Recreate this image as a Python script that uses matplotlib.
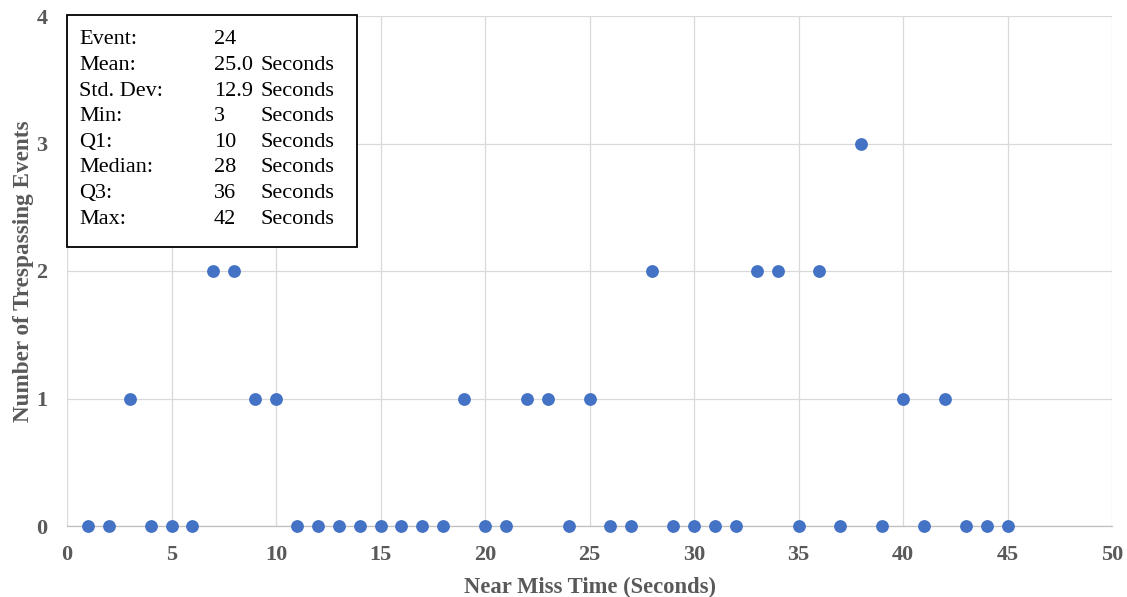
import matplotlib
matplotlib.use("Agg")
import matplotlib.pyplot as plt

x_times = list(range(1, 46))
y_counts = [0, 0, 1, 0, 0, 0, 2, 2, 1, 1,
            0, 0, 0, 0, 0, 0, 0, 0, 1, 0,
            0, 1, 1, 0, 1, 0, 0, 2, 0, 0,
            0, 0, 2, 2, 0, 2, 0, 3, 0, 1,
            0, 1, 0, 0, 0]
x_ticks = [0, 5, 10, 15, 20, 25, 30, 35, 40, 45, 50]
y_ticks = [0, 1, 2, 3, 4]
stat_labels = ["Event:", "Mean:", "Std. Dev:", "Min:", "Q1:", "Median:", "Q3:", "Max:"]
stat_values = ["24", "25.0", "12.9", "3", "10", "28", "36", "42"]
stat_units = ["", "Seconds", "Seconds", "Seconds", "Seconds", "Seconds", "Seconds", "Seconds"]

plt.rcParams['font.family'] = ['Liberation Serif', 'DejaVu Serif']
W, H = 1127, 597
fig = plt.figure(figsize=(W/100, H/100), dpi=100)
L, R, T, B = 67, 1112, 16, 526
ax = fig.add_axes([L/W, 1 - B/H, (R-L)/W, (B-T)/H])

ax.scatter(x_times, y_counts, s=85, color='#4472C4', zorder=3, clip_on=False, linewidths=0)
ax.set_xlim(0, 50)
ax.set_ylim(0, 4)
ax.set_xticks(x_ticks)
ax.set_yticks(y_ticks)
ax.grid(True, color='#D9D9D9', linewidth=0.9, zorder=0)
ax.set_axisbelow(True)
for s in ['top', 'right', 'left']:
    ax.spines[s].set_visible(False)
ax.spines['bottom'].set_color('#BFBFBF')
ax.spines['bottom'].set_linewidth(0.9)
ax.tick_params(length=0, labelsize=16, labelcolor='#595959')
ax.tick_params(axis='x', pad=14)
ax.tick_params(axis='y', pad=14)
for lab in ax.get_xticklabels() + ax.get_yticklabels():
    lab.set_fontweight('bold')
ax.set_xlabel("Near Miss Time (Seconds)", fontsize=16.3, fontweight='bold', color='#595959', labelpad=8)
ax.set_ylabel("Number of Trespassing Events", fontsize=16.7, fontweight='bold', color='#595959', labelpad=2)

# stats box
bx0, by0, bx1, by1 = 67, 15, 357, 247
fig.patches.append(plt.Rectangle((bx0/W, 1 - by1/H), (bx1-bx0)/W, (by1-by0)/H,
                                 transform=fig.transFigure, facecolor='white',
                                 edgecolor='black', linewidth=1.3, zorder=5))
row0, dy = 40, 25.6
for i, (a, b, c) in enumerate(zip(stat_labels, stat_values, stat_units)):
    yy = 1 - (row0 + i*dy)/H
    fig.text(79/W, yy, a, fontsize=16, va='center', ha='left', zorder=6)
    fig.text(214/W, yy, b, fontsize=16, va='center', ha='left', zorder=6)
    if c:
        fig.text(260/W, yy, c, fontsize=16, va='center', ha='left', zorder=6)

fig.savefig("out.png", dpi=100)
